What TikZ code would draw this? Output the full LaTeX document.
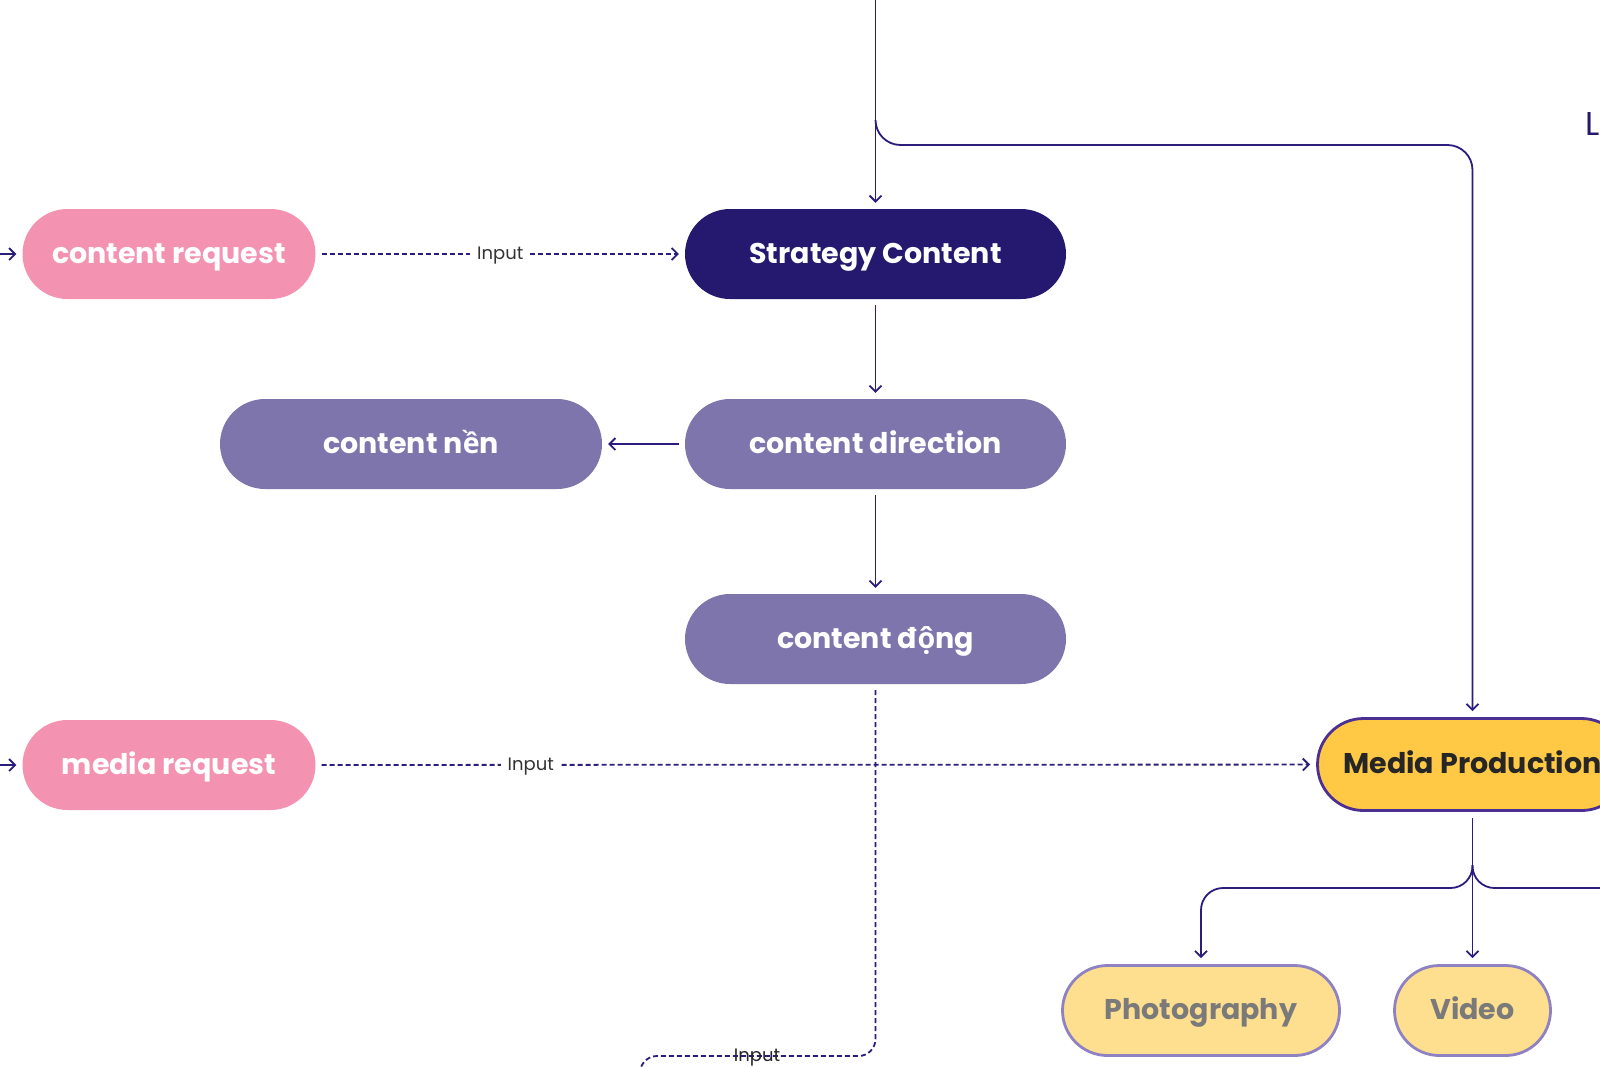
\documentclass[tikz,border=0pt]{standalone}
\usepackage{fontspec}
\setmainfont{Poppins}
\newfontfamily\vnfont{Open Sans}[Scale=MatchLowercase]
\usetikzlibrary{arrows.meta}
\definecolor{navy}{HTML}{24186F}
\definecolor{lnc}{HTML}{2B1D7C}
\definecolor{pinkc}{HTML}{F492B2}
\definecolor{purc}{HTML}{7E75AD}
\definecolor{yelc}{HTML}{FFC845}
\definecolor{yell}{HTML}{FEDE8F}
\definecolor{mpbord}{HTML}{4B2F92}
\definecolor{lav}{HTML}{8F82C2}
\definecolor{grayt}{HTML}{7A7A7A}
\definecolor{darkt}{HTML}{262626}
\definecolor{lbl}{HTML}{333333}
\tikzset{
 pill/.style={rectangle, rounded corners=45pt, minimum height=90pt, inner sep=0pt,
   text height=22pt, text depth=4pt,
   font=\fontsize{28.5}{32}\selectfont\bfseries, text=white},
 bpill/.style={pill, line width=2.8pt, minimum height=90pt},
 wire/.style={draw=lnc, line width=1.8pt},
 conn/.style={wire, -{Straight Barb[length=6pt,width=12pt]}, shorten >=6pt, shorten <=6pt},
 dconn/.style={conn, dash pattern=on 5pt off 3pt},
 lab/.style={font=\fontsize{18}{20}\selectfont, text=lbl, fill=white, inner sep=7pt,
   text height=13pt, text depth=2pt}
}
\begin{document}
\begin{tikzpicture}[x=1pt,y=-1pt]
\useasboundingbox (0,0) rectangle (1600,1066);
\fill[white] (0,0) rectangle (1600,1066);
\clip (0,0) rectangle (1600,1066);

% nodes
\node[pill, fill=pinkc, minimum width=293pt] (cr) at (169,254) {content request};
\node[pill, fill=navy, minimum width=381pt] (sc) at (875.5,254) {Strategy Content};
\node[pill, fill=purc, minimum width=382pt] (cn) at (411,444) {content n{\vnfont ề}n};
\node[pill, fill=purc, minimum width=381pt] (cd) at (875.5,444) {content direction};
\node[pill, fill=purc, minimum width=381pt] (cg) at (875.5,639) {content đ{\vnfont ộ}ng};
\node[pill, fill=pinkc, minimum width=293pt] (mr) at (169,765) {media request};
\node[bpill, fill=yelc, draw=mpbord, rounded corners=46pt, minimum width=310pt, minimum height=92pt, text=darkt] (mp) at (1472.5,764.5) {Media Production};
\node[bpill, fill=yell, draw=lav, minimum width=277pt, text=grayt] (ph) at (1201,1010.5) {Photography};
\node[bpill, fill=yell, draw=lav, minimum width=156pt, text=grayt] (vd) at (1472.5,1010.5) {Video};
\node[font=\fontsize{33}{36}\selectfont, text=navy, anchor=base west, inner sep=0pt] (ltitle) at (1585,135) {L};

% coordinates
\coordinate (lin1) at (-10,254);
\coordinate (lin2) at (-10,765);
\coordinate (ttop) at (875.5,-10);
\coordinate (br1) at (875.5,120);
\coordinate (br2) at (1472.5,145);
\coordinate (dc) at (640,1056);
\coordinate (dl) at (640,1100);
\coordinate (mb) at (1472.5,865);
\coordinate (phc) at (1201,888);
\coordinate (rc) at (1620,888);

% connectors
\draw[conn, shorten <=0pt] (lin1) -- (cr);
\draw[conn, shorten <=0pt] (lin2) -- (mr);
\draw[dconn] (cr) -- node[lab, pos=0.5] {Input} (sc);
\draw[dconn] (mr) -- node[lab, pos=0.215] {Input} (mp);
\draw[conn, shorten <=0pt] (ttop) -- (sc);
\draw[conn, shorten <=0pt, rounded corners=25pt] (br1) |- (br2) -- (mp);
\draw[conn] (sc) -- (cd);
\draw[conn] (cd) -- (cn);
\draw[conn] (cd) -- (cg);
\draw[wire, dash pattern=on 5pt off 3pt, shorten <=6pt, rounded corners=17pt] (cg.south) |- (dc) -- (dl);
\node[font=\fontsize{18}{20}\selectfont, text=darkt, inner sep=0pt, text height=13pt, text depth=2pt] (lab3) at (757,1056) {Input};
\draw[conn] (mp) -- (vd);
\draw[conn, shorten <=0pt, rounded corners=22pt] (mb) |- (phc) -- (ph);
\draw[wire, rounded corners=22pt] (mb) |- (rc);
\end{tikzpicture}
\end{document}
